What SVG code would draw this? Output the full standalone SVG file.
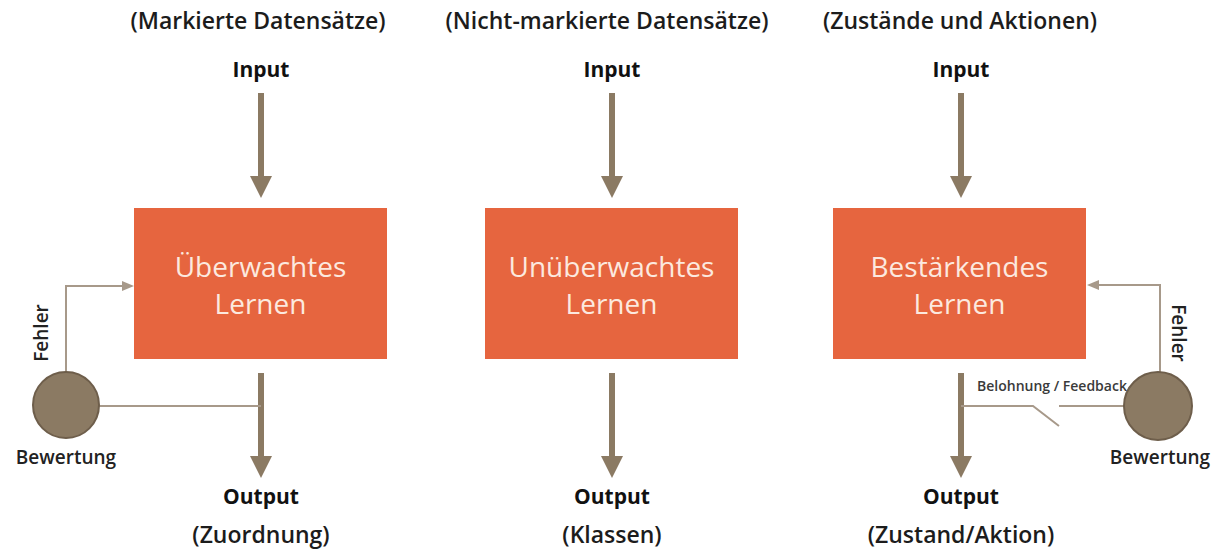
<svg xmlns="http://www.w3.org/2000/svg" width="1220" height="555" viewBox="0 0 1220 555">
  <style>
    .title { font-family: "Open Sans", Lato, "Liberation Sans", sans-serif; font-size: 23px; font-weight: 600; fill: #1c1c1c; text-anchor: middle; }
    .io { font-family: "Open Sans", Lato, "Liberation Sans", sans-serif; font-size: 21px; font-weight: bold; fill: #111; text-anchor: middle; }
    .box { fill: #e6653f; }
    .boxtext { font-family: "Open Sans", Lato, "Liberation Sans", sans-serif; font-size: 28px; fill: #fce9df; text-anchor: middle; }
    .label { font-family: "Open Sans", Lato, "Liberation Sans", sans-serif; font-size: 19px; font-weight: 600; fill: #222; text-anchor: middle; }
    .small { font-family: "Open Sans", Lato, "Liberation Sans", sans-serif; font-size: 14px; font-weight: 600; fill: #3a3a3a; }
    .thick { stroke: #8b7a63; stroke-width: 6; fill: none; }
    .thin { stroke: #a7998a; stroke-width: 2; fill: none; }
    .eval { fill: #8b7a63; stroke: #6e5e4b; stroke-width: 2; }
  </style>
  <defs>
    <marker id="bigHead" markerUnits="userSpaceOnUse" markerWidth="22" markerHeight="22" viewBox="0 0 22 22" refX="0" refY="11" orient="auto">
      <path d="M0,0 L22,11 L0,22 Z" fill="#8b7a63"/>
    </marker>
    <marker id="thinHead" markerUnits="userSpaceOnUse" markerWidth="12" markerHeight="12" viewBox="0 0 12 12" refX="0" refY="6" orient="auto">
      <path d="M0,1 L12,6 L0,11 Z" fill="#a7998a"/>
    </marker>
  </defs>

  <rect width="1220" height="555" fill="#ffffff"/>

  <!-- column headings -->
  <g id="headings">
    <text class="title" x="258" y="29">(Markierte Datensätze)</text>
    <text class="title" x="607" y="29">(Nicht-markierte Datensätze)</text>
    <text class="title" x="960" y="29">(Zustände und Aktionen)</text>
  </g>

  <!-- connectors -->
  <g id="connectors">
    <!-- inputs -->
    <line class="thick" x1="261" y1="93" x2="261" y2="176" marker-end="url(#bigHead)"/>
    <line class="thick" x1="612" y1="93" x2="612" y2="176" marker-end="url(#bigHead)"/>
    <line class="thick" x1="961" y1="93" x2="961" y2="176" marker-end="url(#bigHead)"/>
    <!-- outputs -->
    <line class="thick" x1="261" y1="373" x2="261" y2="456" marker-end="url(#bigHead)"/>
    <line class="thick" x1="612" y1="373" x2="612" y2="456" marker-end="url(#bigHead)"/>
    <line class="thick" x1="961" y1="373" x2="961" y2="456" marker-end="url(#bigHead)"/>
    <!-- supervised feedback loop -->
    <path class="thin" d="M66,372 V286 H122" marker-end="url(#thinHead)"/>
    <line class="thin" x1="99" y1="406" x2="261" y2="406"/>
    <!-- reinforcement feedback loop -->
    <path class="thin" d="M1160,372 V285 H1099" marker-end="url(#thinHead)"/>
    <path class="thin" d="M961,406 H1033 L1059,426"/>
    <line class="thin" x1="1059" y1="406" x2="1125" y2="406"/>
  </g>

  <g id="input-1"><text class="io" x="261" y="77">Input</text></g>
  <g id="input-2"><text class="io" x="612" y="77">Input</text></g>
  <g id="input-3"><text class="io" x="961" y="77">Input</text></g>

  <g id="supervised">
    <rect class="box" x="134" y="208" width="253" height="151"/>
    <text class="boxtext" x="260.5" y="277">Überwachtes</text>
    <text class="boxtext" x="260.5" y="314">Lernen</text>
  </g>
  <g id="unsupervised">
    <rect class="box" x="485" y="208" width="253" height="151"/>
    <text class="boxtext" x="611.5" y="277">Unüberwachtes</text>
    <text class="boxtext" x="611.5" y="314">Lernen</text>
  </g>
  <g id="reinforcement">
    <rect class="box" x="833" y="208" width="253" height="151"/>
    <text class="boxtext" x="959.5" y="277">Bestärkendes</text>
    <text class="boxtext" x="959.5" y="314">Lernen</text>
  </g>

  <g id="evaluation-left">
    <circle class="eval" cx="66" cy="405" r="33"/>
    <text class="label" x="66" y="464">Bewertung</text>
    <text class="label" transform="translate(48,333) rotate(-90)" x="0" y="0">Fehler</text>
  </g>
  <g id="evaluation-right">
    <circle class="eval" cx="1158" cy="406" r="34"/>
    <text class="label" x="1160" y="464">Bewertung</text>
    <text class="label" transform="translate(1172,333) rotate(90)" x="0" y="0">Fehler</text>
    <text class="small" x="977" y="391">Belohnung / Feedback</text>
  </g>

  <g id="output-1">
    <text class="io" x="261" y="504">Output</text>
    <text class="title" x="261" y="543">(Zuordnung)</text>
  </g>
  <g id="output-2">
    <text class="io" x="612" y="504">Output</text>
    <text class="title" x="612" y="543">(Klassen)</text>
  </g>
  <g id="output-3">
    <text class="io" x="961" y="504">Output</text>
    <text class="title" x="961" y="543">(Zustand/Aktion)</text>
  </g>
</svg>
